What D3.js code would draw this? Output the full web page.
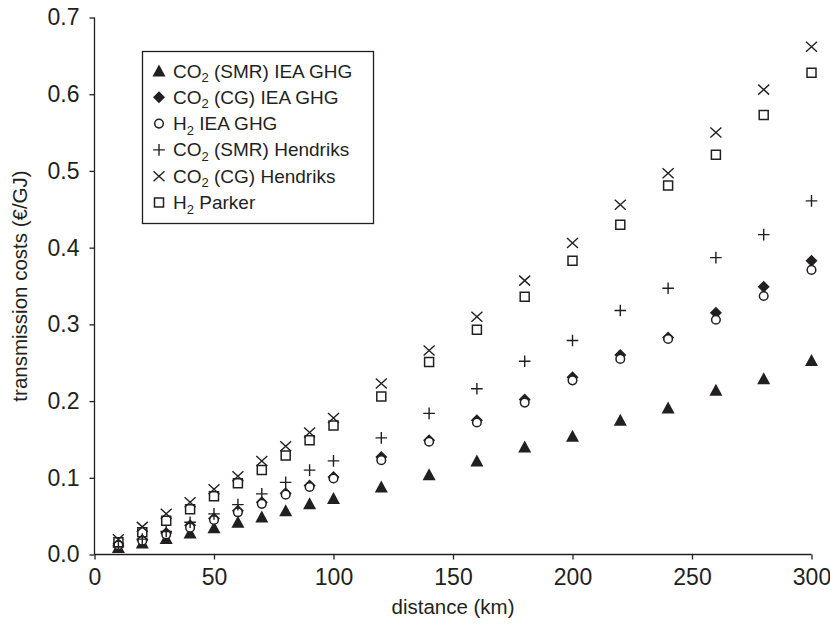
<!DOCTYPE html>
<html><head><meta charset="utf-8">
<script src="https://cdn.jsdelivr.net/npm/d3@7"></script>
<style>body{margin:0;background:#fff}svg{display:block}text{font-family:"Liberation Sans",Arial,sans-serif;fill:#231f20}</style>
</head><body><svg id="c" width="830" height="626"></svg>
<script>
const distances = [10,20,30,40,50,60,70,80,90,100,120,140,160,180,200,220,240,260,280,300];
const co2SmrIea  = [0.009,0.015,0.021,0.028,0.035,0.042,0.049,0.057,0.066,0.073,0.088,0.104,0.122,0.140,0.154,0.175,0.191,0.214,0.229,0.253];
const co2CgIea   = [0.012,0.019,0.028,0.038,0.047,0.057,0.068,0.080,0.090,0.101,0.127,0.149,0.175,0.202,0.231,0.260,0.283,0.315,0.349,0.383];
const h2Iea      = [0.012,0.018,0.026,0.035,0.045,0.055,0.066,0.078,0.088,0.099,0.123,0.147,0.172,0.198,0.227,0.255,0.281,0.306,0.337,0.371];
const co2SmrHen  = [0.010,0.020,0.030,0.042,0.053,0.065,0.079,0.094,0.110,0.122,0.152,0.184,0.216,0.252,0.279,0.318,0.347,0.387,0.417,0.461];
const co2CgHen   = [0.020,0.036,0.053,0.068,0.085,0.102,0.122,0.141,0.159,0.178,0.223,0.266,0.310,0.357,0.406,0.456,0.497,0.550,0.606,0.662];
const h2Parker   = [0.016,0.029,0.044,0.059,0.076,0.093,0.110,0.129,0.149,0.168,0.206,0.251,0.293,0.336,0.383,0.430,0.481,0.521,0.573,0.628];
const xTicks = [0,50,100,150,200,250,300];
const yTicks = [0,0.1,0.2,0.3,0.4,0.5,0.6,0.7];
const seriesNames = [["CO","2"," (SMR) IEA GHG"],["CO","2"," (CG) IEA GHG"],["H","2"," IEA GHG"],["CO","2"," (SMR) Hendriks"],["CO","2"," (CG) Hendriks"],["H","2"," Parker"]];
const xTitle = "distance (km)";
const yTitle = "transmission costs (€/GJ)";

const ink = "#231f20";
const markers = {
  triangle: {d:"M0,-6.5L6.5,5.5L-6.5,5.5Z", fill:ink, stroke:"none", sw:0},
  diamond:  {d:"M0,-6L6,0L0,6L-6,0Z", fill:ink, stroke:"none", sw:0},
  circle:   {d:"M4.3,0A4.3,4.3 0 1,1 -4.3,0A4.3,4.3 0 1,1 4.3,0Z", fill:"#fff", stroke:ink, sw:1.5},
  plus:     {d:"M-5.8,0H5.8M0,-5.8V5.8", fill:"none", stroke:ink, sw:1.4},
  cross:    {d:"M-5.5,-5L5.5,5M-5.5,5L5.5,-5", fill:"none", stroke:ink, sw:1.4},
  square:   {d:"M-4.5,-4.5H4.5V4.5H-4.5Z", fill:"none", stroke:ink, sw:1.5}
};
const series = [
  {vals:co2SmrIea, m:"triangle"},
  {vals:co2CgIea, m:"diamond"},
  {vals:h2Iea, m:"circle"},
  {vals:co2SmrHen, m:"plus"},
  {vals:co2CgHen, m:"cross"},
  {vals:h2Parker, m:"square"}
];

const svg = d3.select("#c");
const X0 = 94.5, X1 = 811.5, Y0 = 554.5, Y1 = 17.5;
const x = d3.scaleLinear().domain([0,300]).range([X0,X1]);
const y = d3.scaleLinear().domain([0,0.7]).range([Y0,Y1]);
const fsTick = 23, fsTitle = 20.5, fsLeg = 19;

const xAxis = svg.append("g").attr("transform",`translate(0,${Y0})`)
  .call(d3.axisBottom(x).tickValues(xTicks).tickSize(5).tickPadding(9).tickFormat(d3.format("d")));
const yAxis = svg.append("g").attr("transform",`translate(${X0},0)`)
  .call(d3.axisLeft(y).tickValues(yTicks).tickSize(5).tickPadding(10).tickFormat(d3.format(".1f")));
[xAxis,yAxis].forEach(a=>{
  a.select(".domain").attr("stroke",ink).attr("stroke-width",1.3);
  a.selectAll(".tick line").attr("stroke",ink).attr("stroke-width",1.3);
  a.selectAll(".tick text").attr("font-size",fsTick).attr("font-family","Liberation Sans, Arial, sans-serif").attr("fill",ink);
});
xAxis.select(".domain").attr("d",`M${X0},0H${X1}`);
yAxis.select(".domain").attr("d",`M0,${Y1}V${Y0}`);

svg.append("text").attr("x",(X0+X1)/2).attr("y",614).attr("text-anchor","middle").attr("font-size",fsTitle).text(xTitle);
svg.append("text").attr("transform","translate(27,286) rotate(-90)").attr("text-anchor","middle").attr("font-size",fsTitle).text(yTitle);

const plot = svg.append("g");
series.forEach(s=>{
  const mk = markers[s.m];
  plot.append("g").selectAll("path").data(distances.map((d,i)=>[d,s.vals[i]])).join("path")
    .attr("transform",d=>`translate(${x(d[0])},${y(d[1])})`)
    .attr("d",mk.d).attr("fill",mk.fill).attr("stroke",mk.stroke).attr("stroke-width",mk.sw);
});

// legend
const lg = svg.append("g");
lg.append("rect").attr("x",142.5).attr("y",51.5).attr("width",231).attr("height",172).attr("fill","#fff").attr("stroke",ink).attr("stroke-width",1.3);
series.forEach((s,i)=>{
  const cy = 71 + i*26.3;
  const mk = markers[s.m];
  lg.append("path").attr("transform",`translate(159,${cy})`).attr("d",mk.d).attr("fill",mk.fill).attr("stroke",mk.stroke).attr("stroke-width",mk.sw);
  const t = lg.append("text").attr("x",173).attr("y",cy+6.5).attr("font-size",fsLeg);
  const n = seriesNames[i];
  t.append("tspan").text(n[0]);
  t.append("tspan").attr("font-size",13).attr("dy",4.5).text(n[1]);
  t.append("tspan").attr("dy",-4.5).text(n[2]);
});
</script></body></html>
